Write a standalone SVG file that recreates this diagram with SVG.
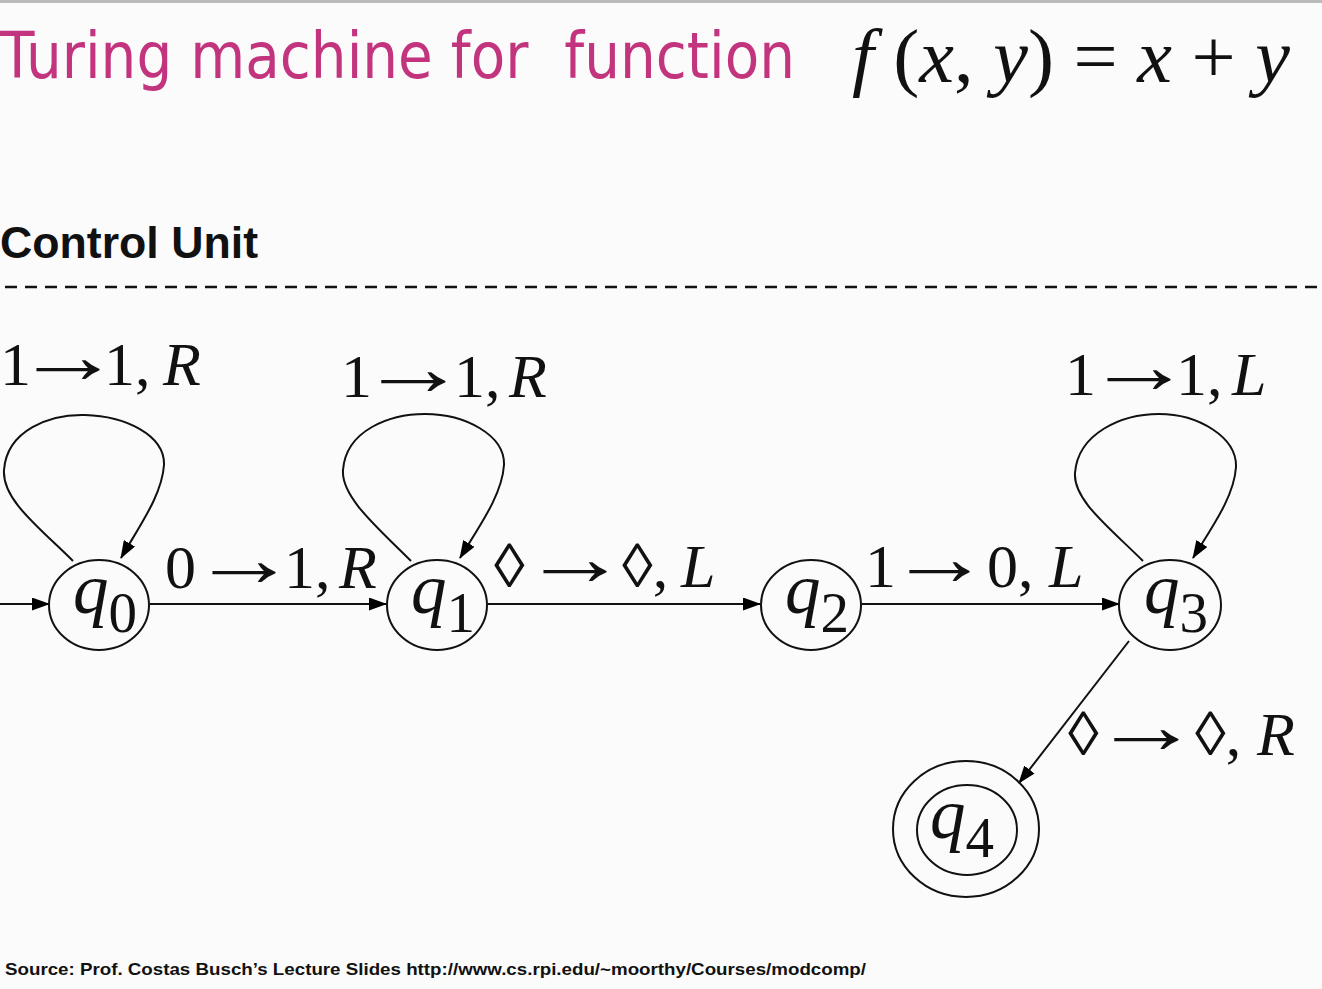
<svg xmlns="http://www.w3.org/2000/svg" width="1322" height="989" viewBox="0 0 1322 989">
<defs>
<marker id="ah" viewBox="0 0 18 13" refX="17" refY="6.5" markerWidth="18" markerHeight="13" markerUnits="userSpaceOnUse" orient="auto">
<path d="M0,0 L18,6.5 L0,13 Z" fill="#000"/>
</marker>
</defs>
<style>
.m{font-family:"Liberation Serif","Times New Roman",serif;fill:#111}
.lbl text{font-family:"Liberation Serif","Times New Roman",serif;font-size:62px;fill:#111}
.lbl .i{font-style:italic}
.lbl .ar{text-anchor:middle}
.i{font-style:italic}
.st{fill:none;stroke:#111;stroke-width:2}
.ed{fill:none;stroke:#111;stroke-width:2;marker-end:url(#ah)}
.q{font-size:71px;font-style:italic}
.sub{font-size:57px;font-style:normal}
</style>
<rect width="1322" height="989" fill="#fbfbfb"/>
<line x1="0" y1="1.5" x2="1322" y2="1.5" stroke="#bbb" stroke-width="3"/>
<g id="title">
<text x="0" y="78" font-family="DejaVu Sans, sans-serif" font-size="64" fill="#c3347e" textLength="795" lengthAdjust="spacingAndGlyphs">Turing machine for&#160; function</text>
<text class="m" x="852" y="82" font-size="76" textLength="438" lengthAdjust="spacingAndGlyphs"><tspan class="i">f</tspan>&#160;(<tspan class="i">x</tspan>, <tspan class="i">y</tspan>) = <tspan class="i">x</tspan> + <tspan class="i">y</tspan></text>
</g>
<g id="control-unit">
<text x="0" y="258" font-family="Liberation Sans, Arial, sans-serif" font-weight="bold" font-size="45" fill="#111" textLength="258" lengthAdjust="spacingAndGlyphs">Control Unit</text>
<line x1="5" y1="287" x2="1322" y2="287" stroke="#111" stroke-width="2.5" stroke-dasharray="12,8"/>
</g>
<g id="connectors">
<line class="ed" x1="0" y1="604" x2="49" y2="604"/>
<line class="ed" x1="150" y1="604" x2="386" y2="604"/>
<line class="ed" x1="488" y1="604" x2="760" y2="604"/>
<line class="ed" x1="862" y1="604" x2="1119" y2="604"/>
<line class="ed" x1="1129" y1="641" x2="1019" y2="783"/>
<path class="ed" d="M73,561 C40,528 2,500 4,470 C7,430 50,414 85,415 C125,416 165,435 164,465 C162,495 140,525 121,558"/>
<path class="ed" d="M411,561 C378,528 341,497 343,470 C346,430 390,414 425,414 C465,414 505,435 504,465 C502,495 480,525 460,558"/>
<path class="ed" d="M1143,561 C1110,528 1073,500 1075,473 C1078,433 1122,414 1159,414 C1198,414 1237,437 1236,467 C1234,497 1212,527 1193,558"/>
<g class="lbl">
<text x="0" y="385">1</text><text class="ar" x="0" y="0" transform="translate(68,383) scale(1.72,1.3)">→</text><text x="104" y="385">1,</text><text class="i" x="163" y="385">R</text>
</g>
<g class="lbl">
<text x="341" y="397">1</text><text class="ar" x="0" y="0" transform="translate(413.5,395) scale(1.75,1.3)">→</text><text x="454" y="397">1,</text><text class="i" x="509" y="397">R</text>
</g>
<g class="lbl">
<text x="1065" y="395">1</text><text class="ar" x="0" y="0" transform="translate(1139,393) scale(1.72,1.3)">→</text><text x="1176" y="395">1,</text><text class="i" x="1232" y="395">L</text>
</g>
<g class="lbl">
<text x="165" y="588">0</text><text class="ar" x="0" y="0" transform="translate(244,586) scale(1.72,1.3)">→</text><text x="284" y="588">1,</text><text class="i" x="339" y="588">R</text>
</g>
<g class="lbl">
<text x="494" y="587">◊</text><text class="ar" x="0" y="0" transform="translate(575,585) scale(1.72,1.3)">→</text><text x="622" y="587">◊,</text><text class="i" x="681" y="587">L</text>
</g>
<g class="lbl">
<text x="865" y="587">1</text><text class="ar" x="0" y="0" transform="translate(939.5,585) scale(1.64,1.3)">→</text><text x="987" y="587">0,</text><text class="i" x="1049" y="587">L</text>
</g>
<g class="lbl">
<text x="1068" y="755">◊</text><text class="ar" x="0" y="0" transform="translate(1146.5,753) scale(1.75,1.3)">→</text><text x="1195" y="755">◊,</text><text class="i" x="1257" y="755">R</text>
</g>
</g>
<g id="q0">
<ellipse class="st" cx="99" cy="605" rx="50" ry="45"/>
<text class="m q" x="73" y="613">q<tspan class="sub" dy="19">0</tspan></text>
</g>
<g id="q1">
<ellipse class="st" cx="437" cy="605" rx="50" ry="45"/>
<text class="m q" x="411" y="613">q<tspan class="sub" dy="19">1</tspan></text>
</g>
<g id="q2">
<ellipse class="st" cx="811" cy="605" rx="50" ry="45"/>
<text class="m q" x="785" y="613">q<tspan class="sub" dy="19">2</tspan></text>
</g>
<g id="q3">
<ellipse class="st" cx="1170" cy="605" rx="51" ry="45"/>
<text class="m q" x="1144" y="613">q<tspan class="sub" dy="19">3</tspan></text>
</g>
<g id="q4">
<ellipse class="st" cx="966" cy="829" rx="73" ry="68"/>
<ellipse class="st" cx="967" cy="830" rx="50" ry="45"/>
<text class="m q" x="930" y="838">q<tspan class="sub" dy="19">4</tspan></text>
</g>
<g id="footer">
<text x="5" y="975" font-family="Liberation Sans, Arial, sans-serif" font-weight="bold" font-size="17" fill="#111" textLength="861" lengthAdjust="spacingAndGlyphs">Source: Prof. Costas Busch’s Lecture Slides http://www.cs.rpi.edu/~moorthy/Courses/modcomp/</text>
</g>
</svg>
